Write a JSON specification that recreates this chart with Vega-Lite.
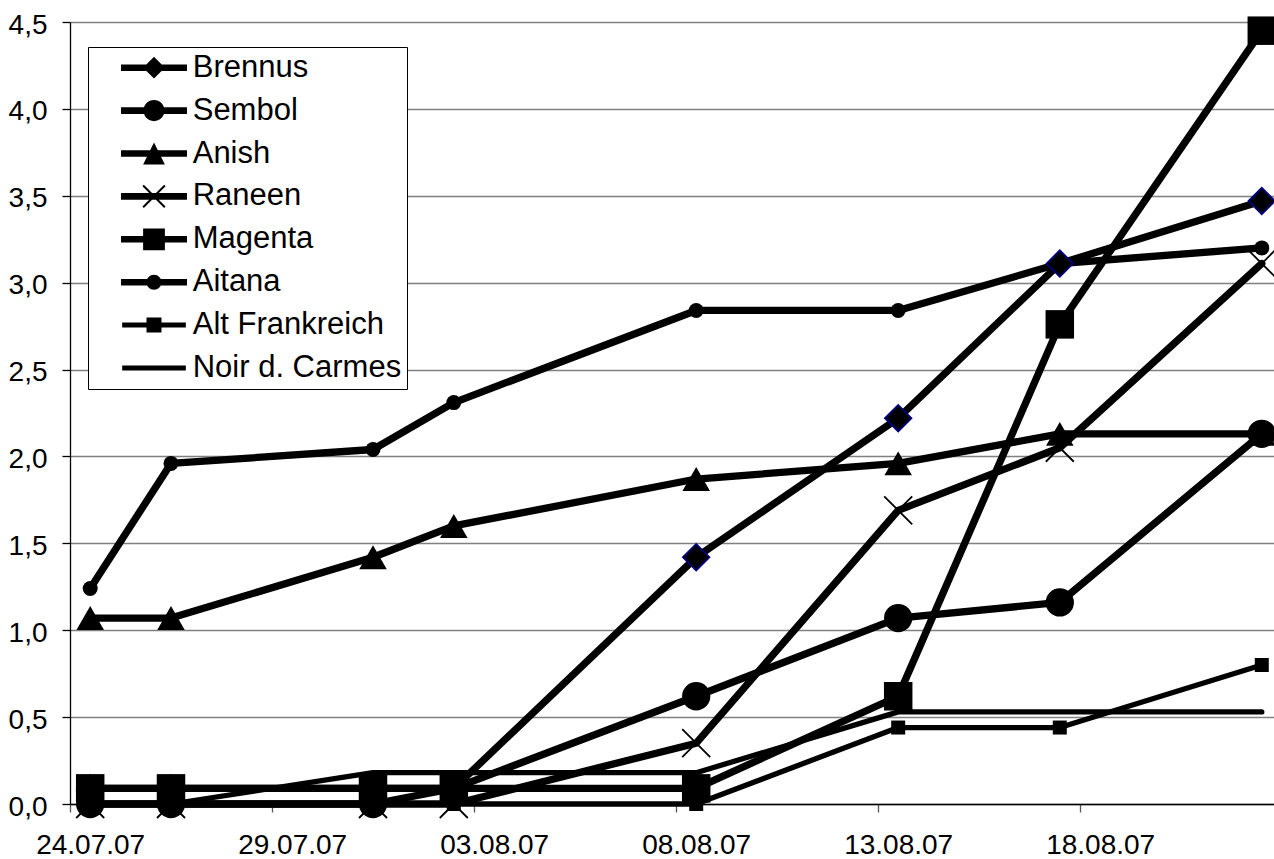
{
  "$schema": "https://vega.github.io/schema/vega-lite/v6.json",
  "width": 1204,
  "height": 782,
  "autosize": {"type": "none"},
  "padding": {"left": 70, "top": 22, "right": 0, "bottom": 55},
  "background": "white",
  "config": {"view": {"stroke": null}, "font": "Liberation Sans"},
  "data": {"values": [
    {"series": "Brennus", "date": "2007-07-24", "value": 0.09},
    {"series": "Brennus", "date": "2007-07-26", "value": 0.09},
    {"series": "Brennus", "date": "2007-07-31", "value": 0.09},
    {"series": "Brennus", "date": "2007-08-02", "value": 0.09},
    {"series": "Brennus", "date": "2007-08-08", "value": 1.42},
    {"series": "Brennus", "date": "2007-08-13", "value": 2.22},
    {"series": "Brennus", "date": "2007-08-17", "value": 3.11},
    {"series": "Brennus", "date": "2007-08-22", "value": 3.47},
    {"series": "Sembol", "date": "2007-07-24", "value": 0},
    {"series": "Sembol", "date": "2007-07-26", "value": 0},
    {"series": "Sembol", "date": "2007-07-31", "value": 0},
    {"series": "Sembol", "date": "2007-08-02", "value": 0.09},
    {"series": "Sembol", "date": "2007-08-08", "value": 0.62},
    {"series": "Sembol", "date": "2007-08-13", "value": 1.07},
    {"series": "Sembol", "date": "2007-08-17", "value": 1.16},
    {"series": "Sembol", "date": "2007-08-22", "value": 2.13},
    {"series": "Anish", "date": "2007-07-24", "value": 1.07},
    {"series": "Anish", "date": "2007-07-26", "value": 1.07},
    {"series": "Anish", "date": "2007-07-31", "value": 1.42},
    {"series": "Anish", "date": "2007-08-02", "value": 1.6},
    {"series": "Anish", "date": "2007-08-08", "value": 1.87},
    {"series": "Anish", "date": "2007-08-13", "value": 1.96},
    {"series": "Anish", "date": "2007-08-17", "value": 2.13},
    {"series": "Anish", "date": "2007-08-22", "value": 2.13},
    {"series": "Raneen", "date": "2007-07-24", "value": 0},
    {"series": "Raneen", "date": "2007-07-26", "value": 0},
    {"series": "Raneen", "date": "2007-07-31", "value": 0},
    {"series": "Raneen", "date": "2007-08-02", "value": 0},
    {"series": "Raneen", "date": "2007-08-08", "value": 0.35},
    {"series": "Raneen", "date": "2007-08-13", "value": 1.69},
    {"series": "Raneen", "date": "2007-08-17", "value": 2.05},
    {"series": "Raneen", "date": "2007-08-22", "value": 3.11},
    {"series": "Magenta", "date": "2007-07-24", "value": 0.09},
    {"series": "Magenta", "date": "2007-07-26", "value": 0.09},
    {"series": "Magenta", "date": "2007-07-31", "value": 0.09},
    {"series": "Magenta", "date": "2007-08-02", "value": 0.09},
    {"series": "Magenta", "date": "2007-08-08", "value": 0.09},
    {"series": "Magenta", "date": "2007-08-13", "value": 0.62},
    {"series": "Magenta", "date": "2007-08-17", "value": 2.76},
    {"series": "Magenta", "date": "2007-08-22", "value": 4.45},
    {"series": "Aitana", "date": "2007-07-24", "value": 1.24},
    {"series": "Aitana", "date": "2007-07-26", "value": 1.96},
    {"series": "Aitana", "date": "2007-07-31", "value": 2.04},
    {"series": "Aitana", "date": "2007-08-02", "value": 2.31},
    {"series": "Aitana", "date": "2007-08-08", "value": 2.84},
    {"series": "Aitana", "date": "2007-08-13", "value": 2.84},
    {"series": "Aitana", "date": "2007-08-17", "value": 3.11},
    {"series": "Aitana", "date": "2007-08-22", "value": 3.2},
    {"series": "Alt Frankreich", "date": "2007-07-24", "value": 0},
    {"series": "Alt Frankreich", "date": "2007-07-26", "value": 0},
    {"series": "Alt Frankreich", "date": "2007-07-31", "value": 0},
    {"series": "Alt Frankreich", "date": "2007-08-02", "value": 0},
    {"series": "Alt Frankreich", "date": "2007-08-08", "value": 0},
    {"series": "Alt Frankreich", "date": "2007-08-13", "value": 0.44},
    {"series": "Alt Frankreich", "date": "2007-08-17", "value": 0.44},
    {"series": "Alt Frankreich", "date": "2007-08-22", "value": 0.8},
    {"series": "Noir d. Carmes", "date": "2007-07-24", "value": 0},
    {"series": "Noir d. Carmes", "date": "2007-07-26", "value": 0},
    {"series": "Noir d. Carmes", "date": "2007-07-31", "value": 0.18},
    {"series": "Noir d. Carmes", "date": "2007-08-02", "value": 0.18},
    {"series": "Noir d. Carmes", "date": "2007-08-08", "value": 0.18},
    {"series": "Noir d. Carmes", "date": "2007-08-13", "value": 0.53},
    {"series": "Noir d. Carmes", "date": "2007-08-17", "value": 0.53},
    {"series": "Noir d. Carmes", "date": "2007-08-22", "value": 0.53}
  ]},
  "encoding": {
    "x": {
      "field": "date", "type": "temporal",
      "scale": {"type": "utc", "domain": [
        {"year": 2007, "month": 7, "date": 23, "hours": 12, "utc": true},
        {"year": 2007, "month": 8, "date": 22, "hours": 7, "minutes": 15, "utc": true}
      ]},
      "axis": {
        "title": null,
        "values": [
          {"year": 2007, "month": 7, "date": 24, "utc": true},
          {"year": 2007, "month": 7, "date": 29, "utc": true},
          {"year": 2007, "month": 8, "date": 3, "utc": true},
          {"year": 2007, "month": 8, "date": 8, "utc": true},
          {"year": 2007, "month": 8, "date": 13, "utc": true},
          {"year": 2007, "month": 8, "date": 18, "utc": true}
        ],
        "labelExpr": "utcFormat(datum.value, '%d.%m.%y')",
        "grid": false,
        "domainColor": "black", "domainWidth": 1.3,
        "tickColor": "#555555", "tickWidth": 1.3, "tickSize": 8,
        "tickOffset": -20.2, "labelOffset": 20.2,
        "labelPadding": 19, "labelFont": "Liberation Sans", "labelFontSize": 28, "labelColor": "black",
        "labelFlush": false, "labelOverlap": false
      }
    },
    "y": {
      "field": "value", "type": "quantitative",
      "scale": {"domain": [0, 4.5], "nice": false, "zero": true},
      "axis": {
        "title": null,
        "values": [0, 0.5, 1, 1.5, 2, 2.5, 3, 3.5, 4, 4.5],
        "labelExpr": "replace(format(datum.value, '.1f'), '.', ',')",
        "grid": true, "gridColor": "#808080", "gridWidth": 1.3,
        "domainColor": "black", "domainWidth": 1.3,
        "tickColor": "black", "tickWidth": 1.3, "tickSize": 8,
        "labelPadding": 15, "labelOffset": 3,
        "labelFont": "Liberation Sans", "labelFontSize": 28, "labelColor": "black",
        "labelOverlap": false
      }
    }
  },
  "layer": [
    {
      "transform": [{"filter": "datum.series !== 'Alt Frankreich' && datum.series !== 'Noir d. Carmes'"}],
      "mark": {"type": "line", "color": "black", "strokeWidth": 7.3, "strokeJoin": "round", "strokeCap": "round"},
      "encoding": {"detail": {"field": "series", "type": "nominal"}}
    },
    {
      "transform": [{"filter": "datum.series === 'Alt Frankreich' || datum.series === 'Noir d. Carmes'"}],
      "mark": {"type": "line", "color": "black", "strokeWidth": 5.3, "strokeJoin": "round", "strokeCap": "round"},
      "encoding": {"detail": {"field": "series", "type": "nominal"}}
    },
    {
      "transform": [{"filter": "datum.series === 'Brennus'"}],
      "mark": {"type": "point", "shape": "diamond", "size": 700, "filled": true, "fill": "black", "stroke": "#000080", "strokeWidth": 1.8, "opacity": 1}
    },
    {
      "transform": [{"filter": "datum.series === 'Sembol'"}],
      "mark": {"type": "point", "shape": "circle", "size": 800, "filled": true, "fill": "black", "strokeWidth": 0, "opacity": 1}
    },
    {
      "transform": [{"filter": "datum.series === 'Anish'"}],
      "mark": {"type": "point", "shape": "triangle-up", "size": 760, "filled": true, "fill": "black", "strokeWidth": 0, "opacity": 1}
    },
    {
      "transform": [{"filter": "datum.series === 'Raneen'"}],
      "mark": {"type": "point", "shape": "M-1,-1L1,1M-1,1L1,-1", "size": 784, "filled": false, "stroke": "black", "strokeWidth": 1.8, "opacity": 1}
    },
    {
      "transform": [{"filter": "datum.series === 'Magenta'"}],
      "mark": {"type": "point", "shape": "square", "size": 812, "filled": true, "fill": "black", "strokeWidth": 0, "opacity": 1}
    },
    {
      "transform": [{"filter": "datum.series === 'Aitana'"}],
      "mark": {"type": "point", "shape": "circle", "size": 225, "filled": true, "fill": "black", "strokeWidth": 0, "opacity": 1}
    },
    {
      "transform": [{"filter": "datum.series === 'Alt Frankreich'"}],
      "mark": {"type": "point", "shape": "square", "size": 196, "filled": true, "fill": "black", "strokeWidth": 0, "opacity": 1}
    },
    {
      "transform": [{"filter": "false"}],
      "mark": {"type": "point", "filled": true, "color": "black", "strokeWidth": 0, "opacity": 1},
      "encoding": {
        "shape": {
          "field": "series", "type": "nominal",
          "scale": {
            "domain": ["Brennus", "Sembol", "Anish", "Raneen", "Magenta", "Aitana", "Alt Frankreich", "Noir d. Carmes"],
            "range": [
              "M-1,-0.1H1V0.1H-1Z M0,-0.33L0.33,0L0,0.33L-0.33,0Z M8.4,-0.001L8.4,0.001",
              "M-1,-0.1H1V0.1H-1Z M-0.32,0A0.32,0.32 0 1,1 0.32,0A0.32,0.32 0 1,1 -0.32,0Z M8.4,-0.001L8.4,0.001",
              "M-1,-0.1H1V0.1H-1Z M0,-0.33L0.33,0.33L-0.33,0.33Z M8.4,-0.001L8.4,0.001",
              "M-1,-0.1H1V0.1H-1Z M-0.308,-0.35L0.35,0.308L0.308,0.35L-0.35,-0.308Z M0.308,-0.35L0.35,-0.308L-0.308,0.35L-0.35,0.308Z M8.4,-0.001L8.4,0.001",
              "M-1,-0.1H1V0.1H-1Z M-0.33,-0.33H0.33V0.33H-0.33Z M8.4,-0.001L8.4,0.001",
              "M-1,-0.1H1V0.1H-1Z M-0.227,0A0.227,0.227 0 1,1 0.227,0A0.227,0.227 0 1,1 -0.227,0Z M8.4,-0.001L8.4,0.001",
              "M-0.965,-0.076H0.965V0.076H-0.965Z M-0.227,-0.227H0.227V0.227H-0.227Z M8.4,-0.001L8.4,0.001",
              "M-0.965,-0.076H0.965V0.076H-0.965Z M8.4,-0.001L8.4,0.001"
            ]
          },
          "legend": {
            "title": null,
            "orient": "none", "legendX": 18, "legendY": 25,
            "direction": "vertical",
            "padding": 5,
            "strokeColor": "black", "fillColor": "white",
            "symbolSize": 4356, "symbolStrokeWidth": 0, "symbolFillColor": "black", "symbolOpacity": 1,
            "symbolOffset": 28, "labelOffset": 5.7,
            "clipHeight": 31.4,
            "rowPadding": 9.9,
            "labelFont": "Liberation Sans", "labelFontSize": 31, "labelColor": "black", "labelLimit": 500
          }
        }
      }
    }
  ]
}
